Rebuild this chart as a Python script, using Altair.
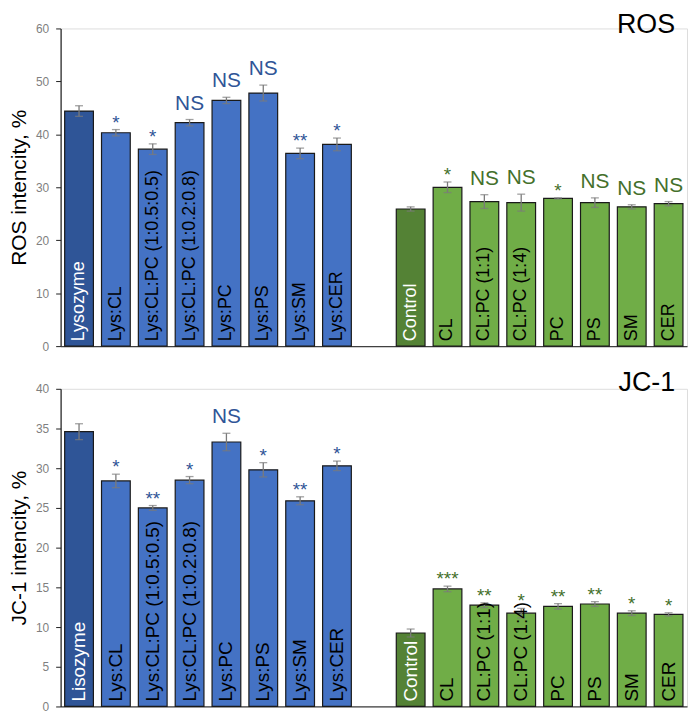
import altair as alt
import pandas as pd

FONT = "Liberation Sans"

slot_ids = [f"L{i}" for i in range(8)] + ["gap"] + [f"G{i}" for i in range(8)]

# ---------------- ROS panel ----------------
ros_title = "ROS"
ros_ytitle = "ROS intencity, %"
ros_labels_left = ["Lysozyme", "Lys:CL", "Lys:CL:PC (1:0.5:0.5)", "Lys:CL:PC (1:0.2:0.8)",
                   "Lys:PC", "Lys:PS", "Lys:SM", "Lys:CER"]
ros_values_left = [44.4, 40.3, 37.2, 42.2, 46.4, 47.8, 36.4, 38.1]
ros_err_left = [1.0, 0.6, 1.0, 0.6, 0.6, 1.5, 1.0, 1.2]
ros_sig_left = ["", "*", "*", "NS", "NS", "NS", "**", "*"]
ros_labels_right = ["Control", "CL", "CL:PC (1:1)", "CL:PC (1:4)", "PC", "PS", "SM", "CER"]
ros_values_right = [25.9, 30.0, 27.3, 27.1, 27.9, 27.1, 26.3, 26.9]
ros_err_right = [0.4, 1.0, 1.3, 1.6, 0.1, 0.9, 0.4, 0.4]
ros_sig_right = ["", "*", "NS", "NS", "*", "NS", "NS", "NS"]

# ---------------- JC-1 panel ----------------
jc_title = "JC-1"
jc_ytitle = "JC-1 intencity, %"
jc_labels_left = ["Lisozyme", "Lys:CL", "Lys:CL:PC (1:0.5:0.5)", "Lys:CL:PC (1:0.2:0.8)",
                  "Lys:PC", "Lys:PS", "Lys:SM", "Lys:CER"]
jc_values_left = [34.6, 28.4, 25.0, 28.5, 33.3, 29.8, 25.9, 30.3]
jc_err_left = [1.0, 0.85, 0.3, 0.45, 1.1, 0.9, 0.5, 0.6]
jc_sig_left = ["", "*", "**", "*", "NS", "*", "**", "*"]
jc_labels_right = ["Control", "CL", "CL:PC (1:1)", "CL:PC (1:4)", "PC", "PS", "SM", "CER"]
jc_values_right = [9.25, 14.8, 12.75, 11.75, 12.6, 12.9, 11.75, 11.6]
jc_err_right = [0.5, 0.35, 0.3, 0.6, 0.35, 0.3, 0.3, 0.2]
jc_sig_right = ["", "***", "**", "*", "**", "**", "*", "*"]

BLUE_DARK, BLUE = "#2F5597", "#4472C4"
GREEN_DARK, GREEN = "#548235", "#70AD47"
SIG_BLUE, SIG_GREEN = "#2F5597", "#44702B"
ERR_COLOR = "#7a7a7a"

W = 631


def panel_df(ll, vl, el, sl, lr, vr, er, sr):
    rows = []
    for i in range(8):
        rows.append(dict(slot=f"L{i}", label=ll[i], value=vl[i], err=el[i], sig=sl[i],
                         fill=BLUE_DARK if i == 0 else BLUE,
                         tcolor="white" if i == 0 else "black", scolor=SIG_BLUE))
    for i in range(8):
        rows.append(dict(slot=f"G{i}", label=lr[i], value=vr[i], err=er[i], sig=sr[i],
                         fill=GREEN_DARK if i == 0 else GREEN,
                         tcolor="white" if i == 0 else "black", scolor=SIG_GREEN))
    return pd.DataFrame(rows)


def panel(df, ymax, ystep, ytitle, title, title_y, label_fs, height):
    base = alt.Chart(df).transform_calculate(
        top="datum.value + datum.err", lo="datum.value - datum.err", zero="0")
    x = alt.X("slot:N",
              scale=alt.Scale(domain=slot_ids, paddingInner=0.22, paddingOuter=0.11),
              axis=alt.Axis(labels=False, ticks=False, title=None,
                            domainColor="#404040", domainWidth=1.2))
    yscale = alt.Scale(domain=[0, ymax], nice=False)
    yaxis = alt.Axis(values=list(range(0, ymax + 1, ystep)), title=ytitle, grid=False,
                     domainColor="#202020", domainWidth=1.2, tickColor="#202020",
                     tickSize=5, labelPadding=7, labelColor="#7f7f7f", labelFontSize=12,
                     titleFontSize=21, titleFontWeight="normal", titleColor="black",
                     titlePadding=6, labelFont=FONT, titleFont=FONT)

    def Y(field):
        return alt.Y(field, scale=yscale, axis=yaxis, title=ytitle)

    bars = base.mark_bar(stroke="#1a1a1a", strokeWidth=1.2).encode(
        x=x, y=Y("value:Q"), fill=alt.Fill("fill:N", scale=None))
    rules = base.mark_rule(color=ERR_COLOR, strokeWidth=1.3).encode(
        x=x, y=Y("lo:Q"), y2="top:Q")
    cap_top = base.mark_tick(color=ERR_COLOR, size=8, thickness=1.3).encode(
        x=x, y=Y("top:Q"))
    cap_lo = base.mark_tick(color=ERR_COLOR, size=8, thickness=1.3).encode(
        x=x, y=Y("lo:Q"))
    labels = base.mark_text(angle=270, align="left", baseline="middle", dx=5,
                            fontSize=label_fs, font=FONT).encode(
        x=x, y=Y("zero:Q"), text="label:N",
        color=alt.Color("tcolor:N", scale=None))
    sig_ns = base.transform_filter("datum.sig == 'NS'").mark_text(
        baseline="alphabetic", dy=-10, fontSize=21, font=FONT).encode(
        x=x, y=Y("top:Q"), text="sig:N",
        color=alt.Color("scolor:N", scale=None))
    sig_star = base.transform_filter("datum.sig != 'NS' && datum.sig != ''").mark_text(
        baseline="alphabetic", dy=-1, fontSize=19, font=FONT).encode(
        x=x, y=Y("top:Q"), text="sig:N",
        color=alt.Color("scolor:N", scale=None))
    ttl = alt.Chart(pd.DataFrame({"t": [title]})).mark_text(
        align="right", baseline="alphabetic", fontSize=27, font=FONT, color="black").encode(
        x=alt.value(W - 12), y=alt.value(title_y), text="t:N")
    return alt.layer(bars, rules, cap_top, cap_lo, labels, sig_ns, sig_star, ttl).properties(
        width=W, height=height)


ros_df = panel_df(ros_labels_left, ros_values_left, ros_err_left, ros_sig_left,
                  ros_labels_right, ros_values_right, ros_err_right, ros_sig_right)
jc_df = panel_df(jc_labels_left, jc_values_left, jc_err_left, jc_sig_left,
                 jc_labels_right, jc_values_right, jc_err_right, jc_sig_right)

top = panel(ros_df, 60, 10, ros_ytitle, ros_title, 5, 18, 320)
bottom = panel(jc_df, 40, 5, jc_ytitle, jc_title, 2, 19, 320)

chart = alt.vconcat(top, bottom, spacing=15).properties(padding=0).configure_view(
    stroke=None).configure(font=FONT)

chart.save("out.html", embed_options={"renderer": "svg", "actions": False})
